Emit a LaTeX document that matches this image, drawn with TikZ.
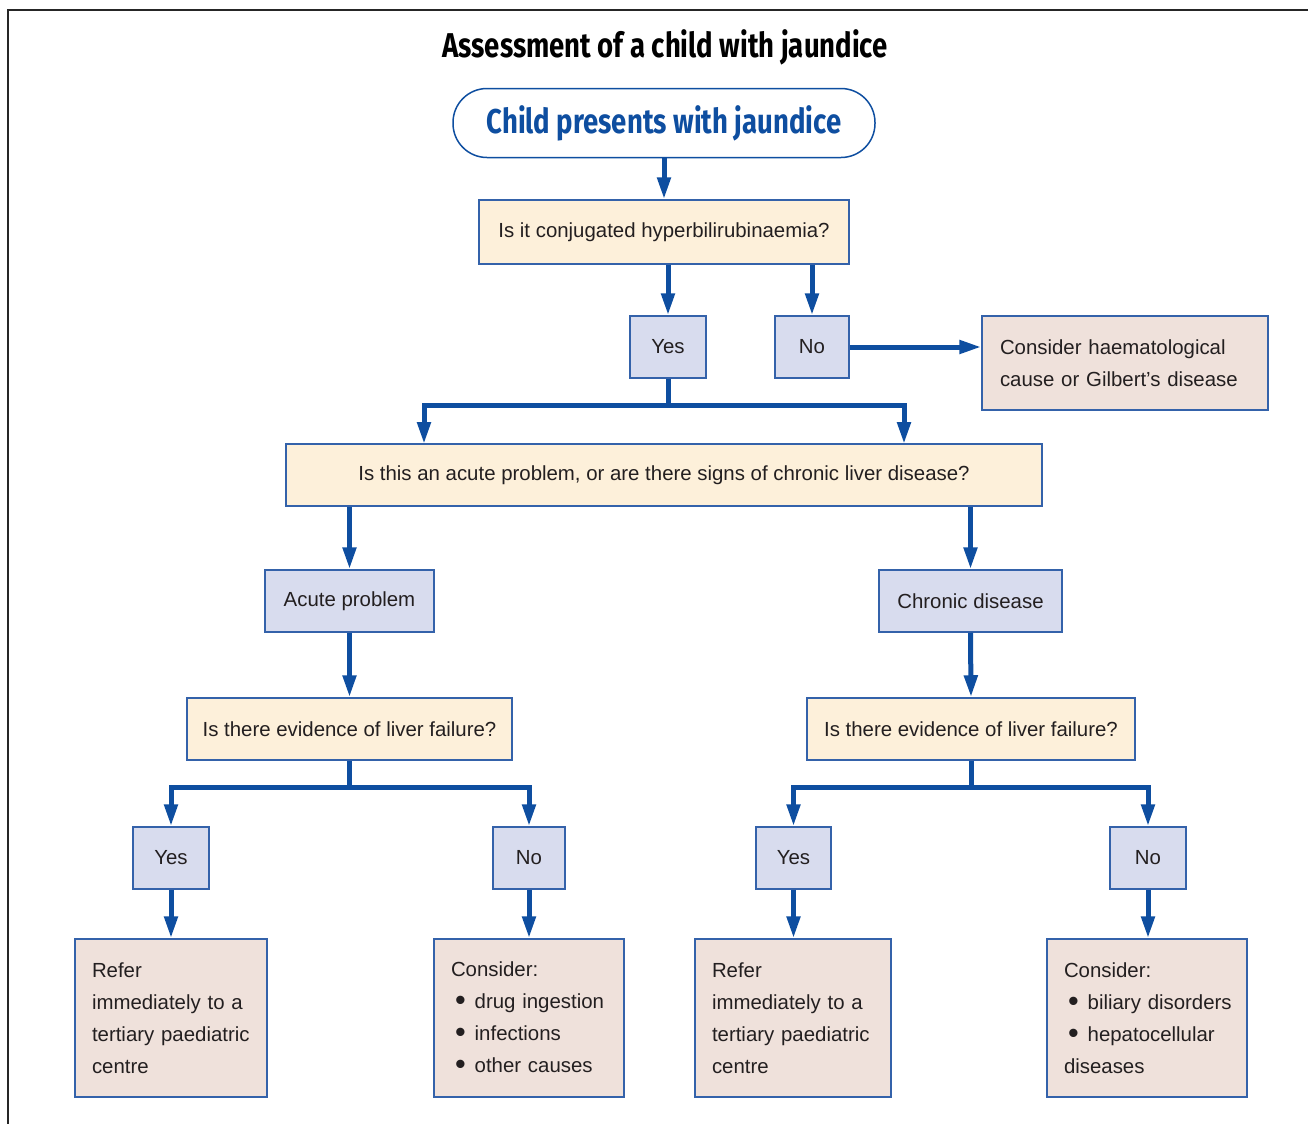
\documentclass[tikz,border=0pt]{standalone}
\usepackage{fontspec}
\setmainfont{Liberation Sans}
\newfontfamily\headfont[FakeStretch=0.8]{Fira Sans}
\usetikzlibrary{arrows.meta}

\definecolor{flowblue}{RGB}{14,78,160}
\definecolor{edgeblue}{RGB}{52,98,170}
\definecolor{qfill}{RGB}{253,240,218}
\definecolor{afill}{RGB}{216,220,238}
\definecolor{rfill}{RGB}{239,225,219}
\definecolor{inkgray}{RGB}{35,31,32}

\newcommand{\itemdot}{\hspace*{2pt}\raisebox{-0.25ex}{\scalebox{1.5}{\textbullet}}\hspace{4.5pt}}

\begin{document}
\begin{tikzpicture}[x=0.5pt,y=-0.5pt,
    box/.style={draw=edgeblue,line width=0.75pt,inner sep=0pt,text=inkgray,
      font=\fontsize{10.2}{16}\selectfont},
    question/.style={box,fill=qfill},
    answer/.style={box,fill=afill},
    result/.style={box,fill=rfill,align=left},
    link/.style={flowblue,line width=2.5pt},
    arr/.style={link,-{Triangle[length=11pt,width=6.5pt]}}]
  \useasboundingbox (0,0) rectangle (1308,1124);
  \draw[line width=1pt,black!85] (8,1124) -- (8,9.5) -- (1308,9.5);

  \node (title) at (665,47) {\headfont\fontsize{17.2}{19}\selectfont\bfseries Assessment of a child with jaundice};
  \node[draw=flowblue,line width=0.75pt,fill=white,rounded corners=17pt,
    minimum width=211pt,minimum height=34.5pt] (start) at (664,123)
    {\headfont\fontsize{17.2}{19}\selectfont\bfseries\color{flowblue}Child presents with jaundice};

  % first question
  \node[question,minimum width=185pt,minimum height=32pt] (q1) at (664,232) {Is it conjugated hyperbilirubinaemia?};
  \node[answer,minimum width=38pt,minimum height=31pt] (yes1) at (668,347) {Yes};
  \node[answer,minimum width=37pt,minimum height=31pt] (no1) at (812,347) {No};
  \node[result,minimum width=143pt,minimum height=47pt,text width=125pt] (haem) at (1125,363)
    {Consider haematological\\cause or Gilbert’s disease};

  % second question
  \node[question,minimum width=378pt,minimum height=31pt] (q2) at (664,475)
    {Is this an acute problem, or are there signs of chronic liver disease?};
  \coordinate (q2a) at (424,444);
  \coordinate (q2b) at (904,444);
  \node[answer,minimum width=84.5pt,minimum height=31pt] (acute) at (349.5,601) {Acute problem};
  \node[answer,minimum width=91.5pt,minimum height=31pt] (chronic) at (970.5,601) {Chronic disease};

  % liver failure
  \node[question,minimum width=162.5pt,minimum height=31pt] (q3l) at (349.5,729) {Is there evidence of liver failure?};
  \node[question,minimum width=164pt,minimum height=31pt] (q3r) at (971,729) {Is there evidence of liver failure?};

  \node[answer,minimum width=38pt,minimum height=31pt] (yesl) at (171,858) {Yes};
  \node[answer,minimum width=36pt,minimum height=31pt] (nol) at (529,858) {No};
  \node[answer,minimum width=37.5pt,minimum height=31pt] (yesr) at (793.5,858) {Yes};
  \node[answer,minimum width=38pt,minimum height=31pt] (nor) at (1148,858) {No};

  % outcomes
  \node[result,minimum width=96pt,minimum height=79pt,text width=79pt] (referl) at (171,1018)
    {Refer\\immediately to a\\tertiary paediatric\\centre};
  \node[result,minimum width=95pt,minimum height=79pt,text width=78pt] (causel) at (529,1018)
    {Consider:\\\mbox{\itemdot drug ingestion}\\\mbox{\itemdot infections}\\\mbox{\itemdot other causes}};
  \node[result,minimum width=98pt,minimum height=79pt,text width=81pt] (referr) at (793,1018)
    {Refer\\immediately to a\\tertiary paediatric\\centre};
  \node[result,minimum width=100pt,minimum height=79pt,text width=83pt] (causer) at (1147,1018)
    {Consider:\\\mbox{\itemdot biliary disorders}\\\mbox{\itemdot hepatocellular}\\diseases};

  % connectors
  \draw[arr] (start.south) -- (q1.north);
  \draw[arr] (q1.south -| yes1) -- (yes1.north);
  \draw[arr] (q1.south -| no1) -- (no1.north);
  \draw[arr] (no1.east) -- (no1.east -| haem.west);
  \draw[arr] (yes1.south) -- ++(0,27) -| (q2a);
  \draw[arr] (yes1.south) -- ++(0,27) -| (q2b);
  \draw[arr] (q2.south -| acute) -- (acute.north);
  \draw[arr] (q2.south -| chronic) -- (chronic.north);
  \draw[arr] (acute.south) -- (q3l.north);
  \draw[arr] (chronic.south) -- (q3r.north);
  \draw[arr] (q3l.south) -- ++(0,27) -| (yesl.north);
  \draw[arr] (q3l.south) -- ++(0,27) -| (nol.north);
  \draw[arr] (q3r.south) -- ++(0,27) -| (yesr.north);
  \draw[arr] (q3r.south) -- ++(0,27) -| (nor.north);
  \draw[arr] (yesl.south) -- (yesl.south |- referl.north);
  \draw[arr] (nol.south) -- (nol.south |- causel.north);
  \draw[arr] (yesr.south) -- (yesr.south |- referr.north);
  \draw[arr] (nor.south) -- (nor.south |- causer.north);
\end{tikzpicture}
\end{document}
